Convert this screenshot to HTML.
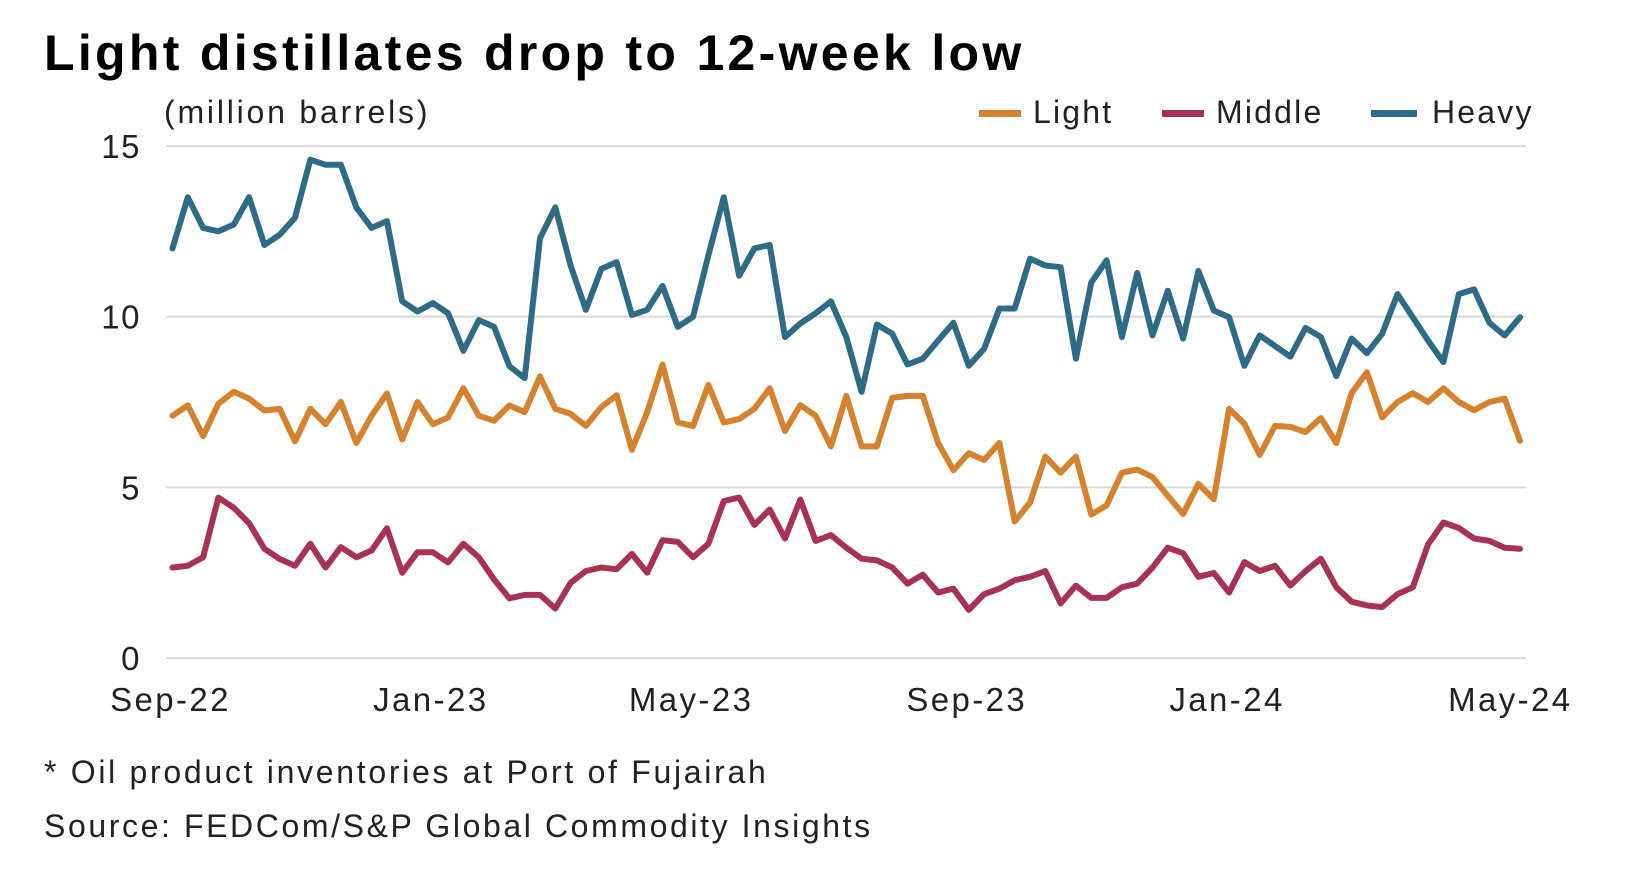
<!DOCTYPE html>
<html><head><meta charset="utf-8"><style>
html,body{margin:0;padding:0;background:#fff;width:1632px;height:870px;overflow:hidden}
svg text{font-family:"Liberation Sans",sans-serif}
</style></head><body>
<svg id="chart" width="1632" height="870">
<text x="44" y="70" font-size="50" font-weight="bold" letter-spacing="3.3" fill="#000">Light distillates drop to 12-week low</text>
<text x="164" y="123" font-size="32" letter-spacing="2.8" fill="#222">(million barrels)</text>
<g>
<g><rect x="979" y="110" width="42" height="7" fill="#d4822d"/><text x="1033" y="123" font-size="32" letter-spacing="2.2" fill="#222">Light</text></g>
<g><rect x="1162" y="110" width="42" height="7" fill="#a83253"/><text x="1216" y="123" font-size="32" letter-spacing="2.2" fill="#222">Middle</text></g>
<g><rect x="1371" y="110" width="46" height="7" fill="#2e6b87"/><text x="1432" y="123" font-size="32" letter-spacing="2.2" fill="#222">Heavy</text></g>
</g>
<g id="grid"></g><g id="series"></g>
<text x="44" y="783" font-size="32" letter-spacing="2.7" fill="#222">* Oil product inventories at Port of Fujairah</text>
<text x="44" y="837" font-size="32" letter-spacing="2.6" fill="#222">Source: FEDCom/S&amp;P Global Commodity Insights</text>
</svg>
<script>
const heavy=[12.0,13.5,12.6,12.5,12.7,13.5,12.1,12.4,12.9,14.6,14.45,14.45,13.2,12.6,12.8,10.45,10.15,10.4,10.1,9.0,9.9,9.7,8.55,8.2,12.3,13.2,11.5,10.2,11.4,11.6,10.05,10.2,10.9,9.7,10.0,11.8,13.5,11.2,12.0,12.1,9.4,9.8,10.1,10.45,9.4,7.8,9.77,9.5,8.6,8.77,9.3,9.82,8.56,9.06,10.24,10.24,11.7,11.5,11.45,8.77,11.0,11.65,9.4,11.28,9.45,10.76,9.36,11.34,10.18,9.98,8.56,9.45,9.14,8.83,9.67,9.4,8.26,9.36,8.93,9.5,10.66,9.98,9.3,8.67,10.66,10.8,9.82,9.45,9.98];
const light=[7.1,7.4,6.5,7.45,7.8,7.6,7.25,7.3,6.35,7.3,6.85,7.5,6.3,7.1,7.75,6.4,7.5,6.85,7.05,7.9,7.1,6.95,7.4,7.2,8.25,7.3,7.15,6.8,7.35,7.7,6.1,7.2,8.6,6.9,6.8,8.0,6.9,7.0,7.3,7.9,6.65,7.41,7.1,6.2,7.68,6.2,6.2,7.62,7.68,7.68,6.3,5.5,6.0,5.8,6.3,4.0,4.55,5.9,5.43,5.9,4.2,4.47,5.43,5.52,5.3,4.75,4.22,5.1,4.65,7.3,6.86,5.95,6.8,6.77,6.62,7.03,6.3,7.76,8.37,7.05,7.5,7.76,7.5,7.9,7.5,7.26,7.5,7.6,6.36];
const middle=[2.65,2.7,2.95,4.7,4.4,3.95,3.2,2.9,2.7,3.35,2.65,3.25,2.95,3.15,3.8,2.5,3.1,3.1,2.8,3.35,2.95,2.3,1.75,1.85,1.85,1.45,2.2,2.55,2.65,2.6,3.05,2.5,3.45,3.4,2.95,3.35,4.6,4.7,3.9,4.35,3.5,4.64,3.43,3.6,3.23,2.91,2.86,2.65,2.18,2.44,1.92,2.03,1.41,1.87,2.03,2.28,2.38,2.55,1.6,2.12,1.76,1.76,2.07,2.18,2.65,3.23,3.07,2.38,2.49,1.92,2.81,2.55,2.7,2.12,2.55,2.91,2.07,1.65,1.54,1.49,1.87,2.07,3.33,3.97,3.81,3.5,3.43,3.23,3.2];
const yTicks=[0,5,10,15];
const xTickLabels=["Sep-22","Jan-23","May-23","Sep-23","Jan-24","May-24"];
const xTickIdx=[0,17,34,52,69,87.5];

const NS="http://www.w3.org/2000/svg";
const X0=172.5,X1=1520,Y0=658,Y1=146,N=heavy.length;
function xs(i){return X0+i*(X1-X0)/(N-1);}
function ys(v){return Y0-(v/15)*(Y0-Y1);}
function mk(t,a,p){const e=document.createElementNS(NS,t);for(const k in a)e.setAttribute(k,a[k]);p.appendChild(e);return e;}
const grid=document.getElementById('grid');
yTicks.forEach(t=>{
  const l=mk('line',{x1:166,x2:1526,y1:ys(t),y2:ys(t),stroke:'#d9d9d9','stroke-width':2},grid);
  
  
  const tx=mk('text',{x:141,y:ys(t)+12,'font-size':33,'letter-spacing':1.5,'text-anchor':'end',fill:'#222'},grid);
  tx.textContent=t;
  
  
});
xTickLabels.forEach((s,k)=>{
  const tx=mk('text',{x:xs(xTickIdx[k])-2,y:711,'font-size':33,'letter-spacing':2.4,'text-anchor':'middle',fill:'#222'},grid);
  tx.textContent=s;
  
  
});
const sg=document.getElementById('series');
[[heavy,'#2e6b87','heavy'],[light,'#d4822d','light'],[middle,'#a83253','middle']].forEach(([d,c,n])=>{
  const p=mk('polyline',{points:d.map((v,i)=>xs(i).toFixed(1)+','+ys(v).toFixed(1)).join(' '),fill:'none',stroke:c,'stroke-width':6,'stroke-linejoin':'round','stroke-linecap':'round'},sg);
  
  
});
</script>
</body></html>
